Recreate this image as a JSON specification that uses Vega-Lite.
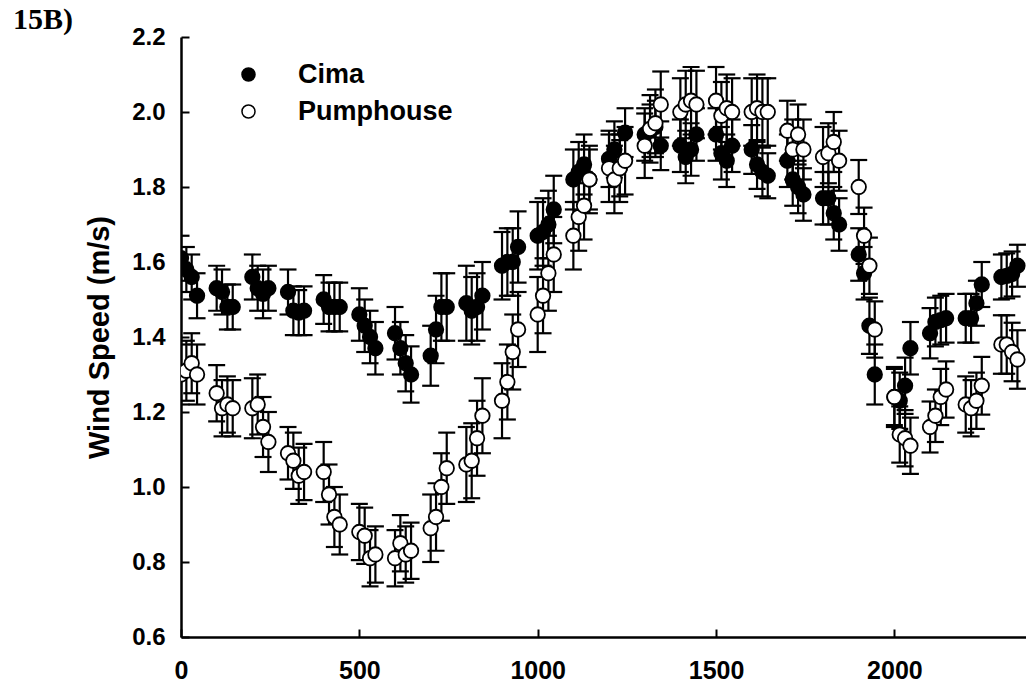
{
  "$schema": "https://vega.github.io/schema/vega-lite/v6.json",
  "width": 845,
  "height": 600,
  "autosize": {"type": "none"},
  "padding": {"left": 181, "top": 37, "right": 0, "bottom": 48},
  "background": "white",
  "title": {
    "text": "15B)",
    "anchor": "start",
    "frame": "group",
    "orient": "top",
    "font": "Liberation Serif",
    "fontWeight": "bold",
    "fontSize": 30,
    "color": "black",
    "dx": -168,
    "dy": 34,
    "offset": 0,
    "baseline": "alphabetic"
  },
  "config": {
    "view": {"stroke": null},
    "axis": {
      "grid": false,
      "domainColor": "black",
      "domainWidth": 2.5,
      "tickColor": "black",
      "tickWidth": 2,
      "tickSize": -8,
      "labelFont": "Liberation Sans",
      "labelFontWeight": "bold",
      "labelColor": "black",
      "titleFont": "Liberation Sans",
      "titleFontWeight": "bold",
      "titleColor": "black"
    }
  },
  "data": {
    "values": [
      {"t": 0, "ws": 1.61, "err": 0.06, "site": "Cima"},
      {"t": 15, "ws": 1.58, "err": 0.06, "site": "Cima"},
      {"t": 30, "ws": 1.56, "err": 0.06, "site": "Cima"},
      {"t": 45, "ws": 1.51, "err": 0.06, "site": "Cima"},
      {"t": 100, "ws": 1.53, "err": 0.06, "site": "Cima"},
      {"t": 115, "ws": 1.52, "err": 0.06, "site": "Cima"},
      {"t": 130, "ws": 1.48, "err": 0.06, "site": "Cima"},
      {"t": 145, "ws": 1.48, "err": 0.06, "site": "Cima"},
      {"t": 200, "ws": 1.56, "err": 0.06, "site": "Cima"},
      {"t": 215, "ws": 1.53, "err": 0.06, "site": "Cima"},
      {"t": 230, "ws": 1.515, "err": 0.065, "site": "Cima"},
      {"t": 245, "ws": 1.53, "err": 0.06, "site": "Cima"},
      {"t": 300, "ws": 1.52, "err": 0.06, "site": "Cima"},
      {"t": 315, "ws": 1.47, "err": 0.065, "site": "Cima"},
      {"t": 330, "ws": 1.465, "err": 0.06, "site": "Cima"},
      {"t": 345, "ws": 1.47, "err": 0.065, "site": "Cima"},
      {"t": 400, "ws": 1.5, "err": 0.065, "site": "Cima"},
      {"t": 415, "ws": 1.48, "err": 0.065, "site": "Cima"},
      {"t": 430, "ws": 1.48, "err": 0.065, "site": "Cima"},
      {"t": 445, "ws": 1.48, "err": 0.065, "site": "Cima"},
      {"t": 500, "ws": 1.46, "err": 0.07, "site": "Cima"},
      {"t": 515, "ws": 1.43, "err": 0.07, "site": "Cima"},
      {"t": 530, "ws": 1.4, "err": 0.07, "site": "Cima"},
      {"t": 545, "ws": 1.37, "err": 0.07, "site": "Cima"},
      {"t": 600, "ws": 1.41, "err": 0.07, "site": "Cima"},
      {"t": 615, "ws": 1.37, "err": 0.07, "site": "Cima"},
      {"t": 630, "ws": 1.33, "err": 0.075, "site": "Cima"},
      {"t": 645, "ws": 1.3, "err": 0.075, "site": "Cima"},
      {"t": 700, "ws": 1.35, "err": 0.08, "site": "Cima"},
      {"t": 715, "ws": 1.42, "err": 0.09, "site": "Cima"},
      {"t": 730, "ws": 1.48, "err": 0.09, "site": "Cima"},
      {"t": 745, "ws": 1.48, "err": 0.09, "site": "Cima"},
      {"t": 800, "ws": 1.49, "err": 0.1, "site": "Cima"},
      {"t": 815, "ws": 1.47, "err": 0.09, "site": "Cima"},
      {"t": 830, "ws": 1.48, "err": 0.09, "site": "Cima"},
      {"t": 845, "ws": 1.51, "err": 0.09, "site": "Cima"},
      {"t": 900, "ws": 1.59, "err": 0.09, "site": "Cima"},
      {"t": 915, "ws": 1.6, "err": 0.09, "site": "Cima"},
      {"t": 930, "ws": 1.6, "err": 0.09, "site": "Cima"},
      {"t": 945, "ws": 1.64, "err": 0.095, "site": "Cima"},
      {"t": 1000, "ws": 1.67, "err": 0.09, "site": "Cima"},
      {"t": 1015, "ws": 1.68, "err": 0.09, "site": "Cima"},
      {"t": 1030, "ws": 1.7, "err": 0.09, "site": "Cima"},
      {"t": 1045, "ws": 1.74, "err": 0.09, "site": "Cima"},
      {"t": 1100, "ws": 1.82, "err": 0.08, "site": "Cima"},
      {"t": 1115, "ws": 1.84, "err": 0.08, "site": "Cima"},
      {"t": 1130, "ws": 1.86, "err": 0.08, "site": "Cima"},
      {"t": 1145, "ws": 1.82, "err": 0.08, "site": "Cima"},
      {"t": 1200, "ws": 1.875, "err": 0.075, "site": "Cima"},
      {"t": 1215, "ws": 1.9, "err": 0.075, "site": "Cima"},
      {"t": 1230, "ws": 1.85, "err": 0.075, "site": "Cima"},
      {"t": 1245, "ws": 1.945, "err": 0.065, "site": "Cima"},
      {"t": 1300, "ws": 1.94, "err": 0.07, "site": "Cima"},
      {"t": 1315, "ws": 1.95, "err": 0.07, "site": "Cima"},
      {"t": 1330, "ws": 1.96, "err": 0.07, "site": "Cima"},
      {"t": 1345, "ws": 1.91, "err": 0.065, "site": "Cima"},
      {"t": 1400, "ws": 1.91, "err": 0.07, "site": "Cima"},
      {"t": 1415, "ws": 1.88, "err": 0.07, "site": "Cima"},
      {"t": 1430, "ws": 1.9, "err": 0.07, "site": "Cima"},
      {"t": 1445, "ws": 1.94, "err": 0.07, "site": "Cima"},
      {"t": 1500, "ws": 1.94, "err": 0.07, "site": "Cima"},
      {"t": 1515, "ws": 1.89, "err": 0.07, "site": "Cima"},
      {"t": 1530, "ws": 1.87, "err": 0.07, "site": "Cima"},
      {"t": 1545, "ws": 1.91, "err": 0.07, "site": "Cima"},
      {"t": 1600, "ws": 1.9, "err": 0.065, "site": "Cima"},
      {"t": 1615, "ws": 1.86, "err": 0.065, "site": "Cima"},
      {"t": 1630, "ws": 1.84, "err": 0.065, "site": "Cima"},
      {"t": 1645, "ws": 1.83, "err": 0.06, "site": "Cima"},
      {"t": 1700, "ws": 1.87, "err": 0.07, "site": "Cima"},
      {"t": 1715, "ws": 1.82, "err": 0.07, "site": "Cima"},
      {"t": 1730, "ws": 1.8, "err": 0.07, "site": "Cima"},
      {"t": 1745, "ws": 1.78, "err": 0.07, "site": "Cima"},
      {"t": 1800, "ws": 1.77, "err": 0.07, "site": "Cima"},
      {"t": 1815, "ws": 1.77, "err": 0.07, "site": "Cima"},
      {"t": 1830, "ws": 1.73, "err": 0.07, "site": "Cima"},
      {"t": 1845, "ws": 1.7, "err": 0.07, "site": "Cima"},
      {"t": 1900, "ws": 1.62, "err": 0.07, "site": "Cima"},
      {"t": 1915, "ws": 1.57, "err": 0.07, "site": "Cima"},
      {"t": 1930, "ws": 1.43, "err": 0.075, "site": "Cima"},
      {"t": 1945, "ws": 1.3, "err": 0.08, "site": "Cima"},
      {"t": 2000, "ws": 1.24, "err": 0.075, "site": "Cima"},
      {"t": 2015, "ws": 1.23, "err": 0.075, "site": "Cima"},
      {"t": 2030, "ws": 1.27, "err": 0.075, "site": "Cima"},
      {"t": 2045, "ws": 1.37, "err": 0.07, "site": "Cima"},
      {"t": 2100, "ws": 1.41, "err": 0.067, "site": "Cima"},
      {"t": 2115, "ws": 1.44, "err": 0.065, "site": "Cima"},
      {"t": 2130, "ws": 1.445, "err": 0.065, "site": "Cima"},
      {"t": 2145, "ws": 1.45, "err": 0.065, "site": "Cima"},
      {"t": 2200, "ws": 1.45, "err": 0.065, "site": "Cima"},
      {"t": 2215, "ws": 1.45, "err": 0.065, "site": "Cima"},
      {"t": 2230, "ws": 1.49, "err": 0.06, "site": "Cima"},
      {"t": 2245, "ws": 1.54, "err": 0.06, "site": "Cima"},
      {"t": 2300, "ws": 1.56, "err": 0.06, "site": "Cima"},
      {"t": 2315, "ws": 1.563, "err": 0.06, "site": "Cima"},
      {"t": 2330, "ws": 1.568, "err": 0.06, "site": "Cima"},
      {"t": 2345, "ws": 1.59, "err": 0.056, "site": "Cima"},
      {"t": 0, "ws": 1.3, "err": 0.08, "site": "Pumphouse"},
      {"t": 15, "ws": 1.31, "err": 0.08, "site": "Pumphouse"},
      {"t": 30, "ws": 1.33, "err": 0.08, "site": "Pumphouse"},
      {"t": 45, "ws": 1.3, "err": 0.08, "site": "Pumphouse"},
      {"t": 100, "ws": 1.25, "err": 0.075, "site": "Pumphouse"},
      {"t": 115, "ws": 1.21, "err": 0.075, "site": "Pumphouse"},
      {"t": 130, "ws": 1.22, "err": 0.075, "site": "Pumphouse"},
      {"t": 145, "ws": 1.21, "err": 0.075, "site": "Pumphouse"},
      {"t": 200, "ws": 1.21, "err": 0.08, "site": "Pumphouse"},
      {"t": 215, "ws": 1.22, "err": 0.08, "site": "Pumphouse"},
      {"t": 230, "ws": 1.16, "err": 0.08, "site": "Pumphouse"},
      {"t": 245, "ws": 1.12, "err": 0.08, "site": "Pumphouse"},
      {"t": 300, "ws": 1.09, "err": 0.07, "site": "Pumphouse"},
      {"t": 315, "ws": 1.07, "err": 0.075, "site": "Pumphouse"},
      {"t": 330, "ws": 1.03, "err": 0.075, "site": "Pumphouse"},
      {"t": 345, "ws": 1.04, "err": 0.075, "site": "Pumphouse"},
      {"t": 400, "ws": 1.04, "err": 0.08, "site": "Pumphouse"},
      {"t": 415, "ws": 0.98, "err": 0.08, "site": "Pumphouse"},
      {"t": 430, "ws": 0.92, "err": 0.08, "site": "Pumphouse"},
      {"t": 445, "ws": 0.9, "err": 0.08, "site": "Pumphouse"},
      {"t": 500, "ws": 0.88, "err": 0.075, "site": "Pumphouse"},
      {"t": 515, "ws": 0.87, "err": 0.075, "site": "Pumphouse"},
      {"t": 530, "ws": 0.81, "err": 0.075, "site": "Pumphouse"},
      {"t": 545, "ws": 0.82, "err": 0.075, "site": "Pumphouse"},
      {"t": 600, "ws": 0.81, "err": 0.075, "site": "Pumphouse"},
      {"t": 615, "ws": 0.85, "err": 0.075, "site": "Pumphouse"},
      {"t": 630, "ws": 0.82, "err": 0.075, "site": "Pumphouse"},
      {"t": 645, "ws": 0.83, "err": 0.075, "site": "Pumphouse"},
      {"t": 700, "ws": 0.89, "err": 0.09, "site": "Pumphouse"},
      {"t": 715, "ws": 0.92, "err": 0.09, "site": "Pumphouse"},
      {"t": 730, "ws": 1.0, "err": 0.09, "site": "Pumphouse"},
      {"t": 745, "ws": 1.05, "err": 0.095, "site": "Pumphouse"},
      {"t": 800, "ws": 1.06, "err": 0.1, "site": "Pumphouse"},
      {"t": 815, "ws": 1.07, "err": 0.1, "site": "Pumphouse"},
      {"t": 830, "ws": 1.13, "err": 0.1, "site": "Pumphouse"},
      {"t": 845, "ws": 1.19, "err": 0.1, "site": "Pumphouse"},
      {"t": 900, "ws": 1.23, "err": 0.1, "site": "Pumphouse"},
      {"t": 915, "ws": 1.28, "err": 0.1, "site": "Pumphouse"},
      {"t": 930, "ws": 1.36, "err": 0.1, "site": "Pumphouse"},
      {"t": 945, "ws": 1.42, "err": 0.1, "site": "Pumphouse"},
      {"t": 1000, "ws": 1.46, "err": 0.1, "site": "Pumphouse"},
      {"t": 1015, "ws": 1.51, "err": 0.1, "site": "Pumphouse"},
      {"t": 1030, "ws": 1.57, "err": 0.1, "site": "Pumphouse"},
      {"t": 1045, "ws": 1.62, "err": 0.1, "site": "Pumphouse"},
      {"t": 1100, "ws": 1.67, "err": 0.09, "site": "Pumphouse"},
      {"t": 1115, "ws": 1.72, "err": 0.09, "site": "Pumphouse"},
      {"t": 1130, "ws": 1.75, "err": 0.09, "site": "Pumphouse"},
      {"t": 1145, "ws": 1.82, "err": 0.09, "site": "Pumphouse"},
      {"t": 1200, "ws": 1.85, "err": 0.09, "site": "Pumphouse"},
      {"t": 1215, "ws": 1.82, "err": 0.09, "site": "Pumphouse"},
      {"t": 1230, "ws": 1.85, "err": 0.09, "site": "Pumphouse"},
      {"t": 1245, "ws": 1.87, "err": 0.09, "site": "Pumphouse"},
      {"t": 1300, "ws": 1.91, "err": 0.086, "site": "Pumphouse"},
      {"t": 1315, "ws": 1.955, "err": 0.09, "site": "Pumphouse"},
      {"t": 1330, "ws": 1.97, "err": 0.09, "site": "Pumphouse"},
      {"t": 1345, "ws": 2.02, "err": 0.088, "site": "Pumphouse"},
      {"t": 1400, "ws": 2.0, "err": 0.09, "site": "Pumphouse"},
      {"t": 1415, "ws": 2.02, "err": 0.09, "site": "Pumphouse"},
      {"t": 1430, "ws": 2.03, "err": 0.09, "site": "Pumphouse"},
      {"t": 1445, "ws": 2.02, "err": 0.09, "site": "Pumphouse"},
      {"t": 1500, "ws": 2.03, "err": 0.09, "site": "Pumphouse"},
      {"t": 1515, "ws": 1.99, "err": 0.09, "site": "Pumphouse"},
      {"t": 1530, "ws": 2.01, "err": 0.09, "site": "Pumphouse"},
      {"t": 1545, "ws": 2.0, "err": 0.09, "site": "Pumphouse"},
      {"t": 1600, "ws": 2.0, "err": 0.09, "site": "Pumphouse"},
      {"t": 1615, "ws": 2.01, "err": 0.09, "site": "Pumphouse"},
      {"t": 1630, "ws": 2.0, "err": 0.09, "site": "Pumphouse"},
      {"t": 1645, "ws": 2.0, "err": 0.09, "site": "Pumphouse"},
      {"t": 1700, "ws": 1.95, "err": 0.08, "site": "Pumphouse"},
      {"t": 1715, "ws": 1.9, "err": 0.08, "site": "Pumphouse"},
      {"t": 1730, "ws": 1.94, "err": 0.08, "site": "Pumphouse"},
      {"t": 1745, "ws": 1.9, "err": 0.08, "site": "Pumphouse"},
      {"t": 1800, "ws": 1.88, "err": 0.08, "site": "Pumphouse"},
      {"t": 1815, "ws": 1.89, "err": 0.08, "site": "Pumphouse"},
      {"t": 1830, "ws": 1.92, "err": 0.08, "site": "Pumphouse"},
      {"t": 1845, "ws": 1.87, "err": 0.08, "site": "Pumphouse"},
      {"t": 1900, "ws": 1.8, "err": 0.072, "site": "Pumphouse"},
      {"t": 1915, "ws": 1.67, "err": 0.075, "site": "Pumphouse"},
      {"t": 1930, "ws": 1.59, "err": 0.075, "site": "Pumphouse"},
      {"t": 1945, "ws": 1.42, "err": 0.075, "site": "Pumphouse"},
      {"t": 2000, "ws": 1.24, "err": 0.08, "site": "Pumphouse"},
      {"t": 2015, "ws": 1.14, "err": 0.075, "site": "Pumphouse"},
      {"t": 2030, "ws": 1.13, "err": 0.075, "site": "Pumphouse"},
      {"t": 2045, "ws": 1.11, "err": 0.075, "site": "Pumphouse"},
      {"t": 2100, "ws": 1.16, "err": 0.068, "site": "Pumphouse"},
      {"t": 2115, "ws": 1.19, "err": 0.07, "site": "Pumphouse"},
      {"t": 2130, "ws": 1.24, "err": 0.075, "site": "Pumphouse"},
      {"t": 2145, "ws": 1.26, "err": 0.075, "site": "Pumphouse"},
      {"t": 2200, "ws": 1.22, "err": 0.075, "site": "Pumphouse"},
      {"t": 2215, "ws": 1.21, "err": 0.075, "site": "Pumphouse"},
      {"t": 2230, "ws": 1.23, "err": 0.075, "site": "Pumphouse"},
      {"t": 2245, "ws": 1.27, "err": 0.077, "site": "Pumphouse"},
      {"t": 2300, "ws": 1.38, "err": 0.078, "site": "Pumphouse"},
      {"t": 2315, "ws": 1.38, "err": 0.078, "site": "Pumphouse"},
      {"t": 2330, "ws": 1.36, "err": 0.078, "site": "Pumphouse"},
      {"t": 2345, "ws": 1.34, "err": 0.078, "site": "Pumphouse"}
    ]
  },
  "encoding": {
    "x": {
      "field": "t",
      "type": "quantitative",
      "scale": {"domain": [0, 2369], "nice": false, "zero": false},
      "axis": {
        "values": [0, 500, 1000, 1500, 2000],
        "format": "d",
        "title": null,
        "labelFontSize": 25,
        "labelPadding": 29,
        "labelFlush": false
      }
    },
    "y": {
      "field": "ws",
      "type": "quantitative",
      "scale": {"domain": [0.6, 2.2], "nice": false, "zero": false},
      "axis": {
        "values": [0.6, 0.8, 1.0, 1.2, 1.4, 1.6, 1.8, 2.0, 2.2],
        "format": ".1f",
        "title": "Wind Speed (m/s)",
        "titleFontSize": 29,
        "titlePadding": 17,
        "labelFontSize": 24,
        "labelPadding": 24,
        "labelFlush": false
      }
    }
  },
  "layer": [
    {
      "mark": {
        "type": "errorbar",
        "clip": true,
        "opacity": 1,
        "ticks": {"size": 17, "thickness": 2.2, "color": "black", "opacity": 1},
        "rule": {"strokeWidth": 2.2, "color": "black", "opacity": 1}
      },
      "encoding": {
        "yError": {"field": "err"},
        "detail": {"field": "site", "type": "nominal"}
      }
    },
    {
      "mark": {"type": "point", "shape": "circle", "filled": false, "size": 210, "strokeWidth": 1.8, "stroke": "black", "opacity": 1, "clip": true},
      "encoding": {
        "fill": {
          "field": "site",
          "type": "nominal",
          "scale": {"domain": ["Cima", "Pumphouse"], "range": ["black", "white"]},
          "legend": {
            "title": null,
            "orient": "none",
            "legendX": 54,
            "legendY": 24,
            "padding": 0,
            "symbolType": "circle",
            "symbolSize": 170,
            "symbolStrokeColor": "black",
            "symbolStrokeWidth": 1.5,
            "symbolOpacity": 1,
            "labelFont": "Liberation Sans",
            "labelFontWeight": "bold",
            "labelFontSize": 27,
            "labelColor": "black",
            "labelOffset": 36,
            "rowPadding": 9
          }
        }
      }
    }
  ]
}
